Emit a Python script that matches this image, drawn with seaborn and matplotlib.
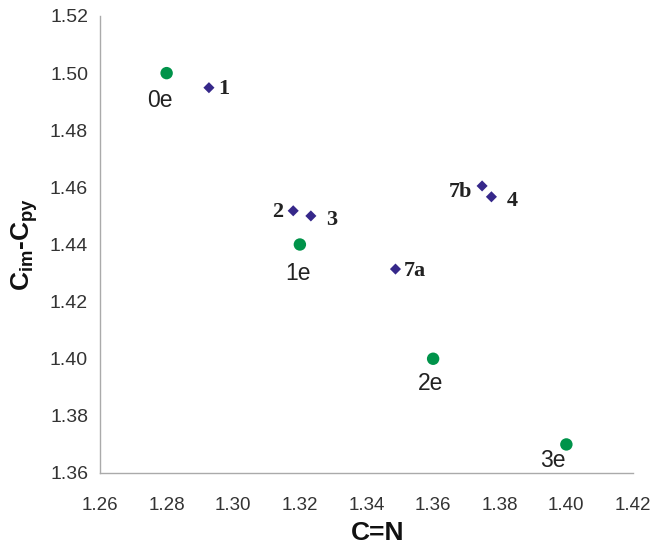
import matplotlib
matplotlib.use("Agg")
import matplotlib.pyplot as plt
import numpy as np
import pandas as pd
import seaborn as sns

# model points (green circles)
model_labels = ["0e", "1e", "2e", "3e"]
model_cn = [1.280, 1.320, 1.360, 1.400]
model_cc = [1.500, 1.440, 1.400, 1.370]

# compounds (blue diamonds)
comp_labels = ["1", "2", "3", "7a", "7b", "4"]
comp_cn = [1.2927, 1.318, 1.3233, 1.3487, 1.3747, 1.3775]
comp_cc = [1.4949, 1.4518, 1.4500, 1.4314, 1.4605, 1.4567]

xticks = [1.26, 1.28, 1.30, 1.32, 1.34, 1.36, 1.38, 1.40, 1.42]
yticks = [1.36, 1.38, 1.40, 1.42, 1.44, 1.46, 1.48, 1.50, 1.52]

sns.set_style("white")
plt.rcParams['font.family'] = ['Liberation Sans', 'DejaVu Sans']
plt.rcParams['mathtext.fontset'] = 'custom'
plt.rcParams['mathtext.rm'] = 'Liberation Sans'
plt.rcParams['mathtext.bf'] = 'Liberation Sans:bold'

models = pd.DataFrame({"cn": model_cn, "cc": model_cc, "lab": model_labels})
comps = pd.DataFrame({"cn": comp_cn, "cc": comp_cc, "lab": comp_labels})

fig, ax = plt.subplots(figsize=(6.55, 5.44), dpi=100)
fig.subplots_adjust(left=100/655, right=633/655, top=1-16/544, bottom=1-473/544)

sns.scatterplot(data=models, x="cn", y="cc", ax=ax, color="#00934a", marker="o",
                s=80, edgecolor="none", zorder=3)
sns.scatterplot(data=comps, x="cn", y="cc", ax=ax, color="#36288a", marker="D",
                s=32, edgecolor="none", zorder=3)

# label offsets in pixels (dx, dy)
model_off = {"0e": (-7, -27), "1e": (-2, -29), "2e": (-3, -25), "3e": (-14, -16)}
for _, r in models.iterrows():
    dx, dy = model_off[r.lab]
    ax.annotate(r.lab, (r.cn, r.cc), xytext=(dx, dy), textcoords="offset pixels",
                ha="center", va="center", fontsize=16.5, color="#222222")

comp_off = {"1": (9, -1, "left"), "2": (-10, -1, "right"), "3": (15, -4, "left"),
            "7a": (8, -2, "left"), "7b": (-10, -6, "right"), "4": (15, -4, "left")}
for _, r in comps.iterrows():
    dx, dy, ha = comp_off[r.lab]
    ax.annotate(r.lab, (r.cn, r.cc), xytext=(dx, dy), textcoords="offset pixels",
                ha=ha, va="center", fontsize=16, fontweight="bold",
                family=["Liberation Serif", "DejaVu Serif"], color="#222222")

ax.set_xlim(1.26, 1.42)
ax.set_ylim(1.36, 1.52)
ax.set_xticks(xticks)
ax.set_yticks(yticks)
ax.set_xticklabels([f"{v:.2f}" for v in xticks])
ax.set_yticklabels([f"{v:.2f}" for v in yticks])
ax.tick_params(axis="both", direction="out", length=3.6, width=1, color="#aaaaaa",
               labelcolor="#333333", pad=5)
ax.tick_params(axis="y", labelsize=14)
ax.tick_params(axis="x", labelsize=13.5, pad=14)

sns.despine(ax=ax)
for s in ["left", "bottom"]:
    ax.spines[s].set_color("#aaaaaa")
    ax.spines[s].set_linewidth(1)

ax.set_xlabel("C=N", fontsize=19, fontweight="bold", color="#111111")
ax.set_ylabel(r"$\mathbf{C_{im}}$-$\mathbf{C_{py}}$", fontsize=19, fontweight="bold", color="#111111")
ax.xaxis.set_label_coords(0.52, -0.105)
ax.yaxis.set_label_coords(-0.113, 0.5)

plt.savefig("out.png", dpi=100)
